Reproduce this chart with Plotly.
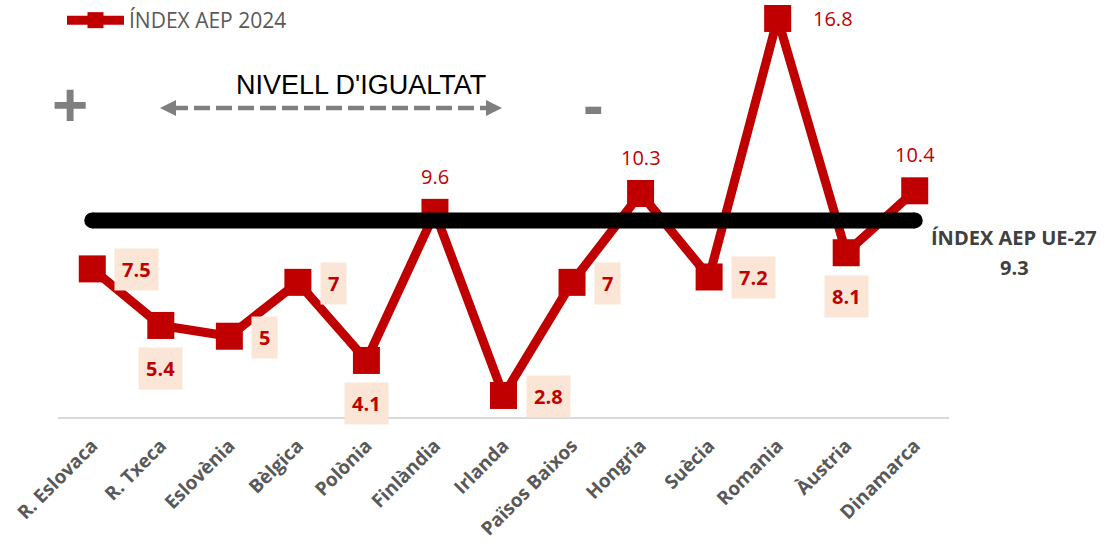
import plotly.graph_objects as go

# ---- data ----
countries = ["R. Eslovaca", "R. Txeca", "Eslovènia", "Bèlgica", "Polònia", "Finlàndia",
             "Irlanda", "Països Baixos", "Hongria", "Suècia", "Romania", "Àustria", "Dinamarca"]
index_2024 = [7.5, 5.4, 5, 7, 4.1, 9.6, 2.8, 7, 10.3, 7.2, 16.8, 8.1, 10.4]
eu_index = 9.3
series_name = "ÍNDEX AEP 2024"
eu_label = "ÍNDEX AEP UE-27"
equality_label = "NIVELL D'IGUALTAT"

# ---- label styling (position of each value label) ----
label_pos = ["right", "below", "right", "right", "below", "above", "right",
             "right", "above", "right", "right_plain", "below", "above"]

RED = "#C00000"
PEACH = "#FBE5D6"
GRAY = "#7F7F7F"

# plot area in pixels
L, R, T, B = 58, 949, 5, 417
W, H = 1115, 544


def px(xp):
    return (xp - L) / (R - L)


def py(yp):
    return (B - yp) / (B - T)


fig = go.Figure()
fig.add_trace(go.Scatter(
    x=countries, y=index_2024, mode="lines+markers", name=series_name,
    line=dict(color=RED, width=9),
    marker=dict(symbol="square", size=27, color=RED),
    hoverinfo="skip",
))

annotations = []
for c, v, pos in zip(countries, index_2024, label_pos):
    txt = f"{v:g}"
    if pos == "right":
        annotations.append(dict(x=c, y=v, text=f"<b>{txt}</b>", showarrow=False,
                                xanchor="left", yanchor="middle", xshift=22, yshift=-1,
                                bgcolor=PEACH, borderpad=7,
                                font=dict(family="Open Sans", size=20, color=RED)))
    elif pos == "below":
        annotations.append(dict(x=c, y=v, text=f"<b>{txt}</b>", showarrow=False,
                                xanchor="center", yanchor="top", yshift=-22,
                                bgcolor=PEACH, borderpad=7,
                                font=dict(family="Open Sans", size=20, color=RED)))
    elif pos == "above":
        annotations.append(dict(x=c, y=v, text=txt, showarrow=False,
                                xanchor="center", yanchor="middle", yshift=36,
                                font=dict(family="Open Sans", size=20, color=RED)))
    else:
        annotations.append(dict(x=c, y=v, text=txt, showarrow=False,
                                xanchor="left", yanchor="middle", xshift=33,
                                font=dict(family="Open Sans", size=20, color=RED)))


def note(xp, yp, text, size, color, family="Open Sans"):
    return dict(xref="paper", yref="paper", x=px(xp), y=py(yp), text=text,
                xanchor="center", yanchor="middle", showarrow=False,
                font=dict(family=family, size=size, color=color))


# EU label
annotations.append(note(1014, 237, f"<b>{eu_label}</b>", 20, "#404040"))
annotations.append(note(1014, 267, f"<b>{eu_index:g}</b>", 20, "#404040"))
# equality text and +/- signs
annotations.append(note(361, 85, equality_label, 27, "#000000", "Liberation Sans, Arial"))
annotations.append(note(70, 104, "<b>+</b>", 62, GRAY, "Liberation Sans, Arial"))
annotations.append(note(593, 104, "<b>-</b>", 62, GRAY, "Liberation Sans, Arial"))

shapes = [
    # EU reference line (on top of series)
    dict(type="line", xref="x", yref="y", x0=0, x1=len(countries) - 1, y0=eu_index, y1=eu_index,
         line=dict(color="#000000", width=16), layer="above"),
    dict(type="circle", xref="x", yref="y", xsizemode="pixel", ysizemode="pixel",
         xanchor=0, yanchor=eu_index, x0=-8, x1=8, y0=-8, y1=8,
         fillcolor="#000000", line=dict(width=0), layer="above"),
    dict(type="circle", xref="x", yref="y", xsizemode="pixel", ysizemode="pixel",
         xanchor=len(countries) - 1, yanchor=eu_index, x0=-8, x1=8, y0=-8, y1=8,
         fillcolor="#000000", line=dict(width=0), layer="above"),
    # dashed double arrow
    dict(type="line", xref="paper", yref="paper", x0=px(172), x1=px(490), y0=py(108), y1=py(108),
         line=dict(color=GRAY, width=4.5, dash="16px,6px")),
    dict(type="path", xref="paper", yref="paper",
         path=f"M {px(160)},{py(108)} L {px(176)},{py(100)} L {px(176)},{py(116)} Z",
         fillcolor=GRAY, line=dict(width=0)),
    dict(type="path", xref="paper", yref="paper",
         path=f"M {px(502)},{py(108)} L {px(486)},{py(100)} L {px(486)},{py(116)} Z",
         fillcolor=GRAY, line=dict(width=0)),
]

fig.update_layout(
    width=W, height=H,
    margin=dict(l=L, r=W - R, t=T, b=H - B, autoexpand=False),
    plot_bgcolor="white", paper_bgcolor="white",
    showlegend=True,
    hovermode=False,
    legend=dict(x=px(62), y=py(0), xanchor="left", yanchor="top", itemwidth=57,
                font=dict(family="Open Sans", size=21, color="#595959"),
                bgcolor="rgba(0,0,0,0)"),
    annotations=annotations,
    shapes=shapes,
    xaxis=dict(type="category", tickangle=-45, showgrid=False, automargin=False,
               range=[-0.5, len(countries) - 0.5],
               showline=True, linecolor="#D9D9D9", linewidth=2,
               ticks="", ticklabelstandoff=8,
               tickfont=dict(family="Open Sans", size=19, color="#595959", weight="bold")),
    yaxis=dict(range=[2, 17.3], showgrid=False, zeroline=False, showticklabels=False,
               showline=False, ticks="", automargin=False),
)

fig.write_html("out.html", config={"displayModeBar": False},
               post_script="document.body.style.margin='0';")
